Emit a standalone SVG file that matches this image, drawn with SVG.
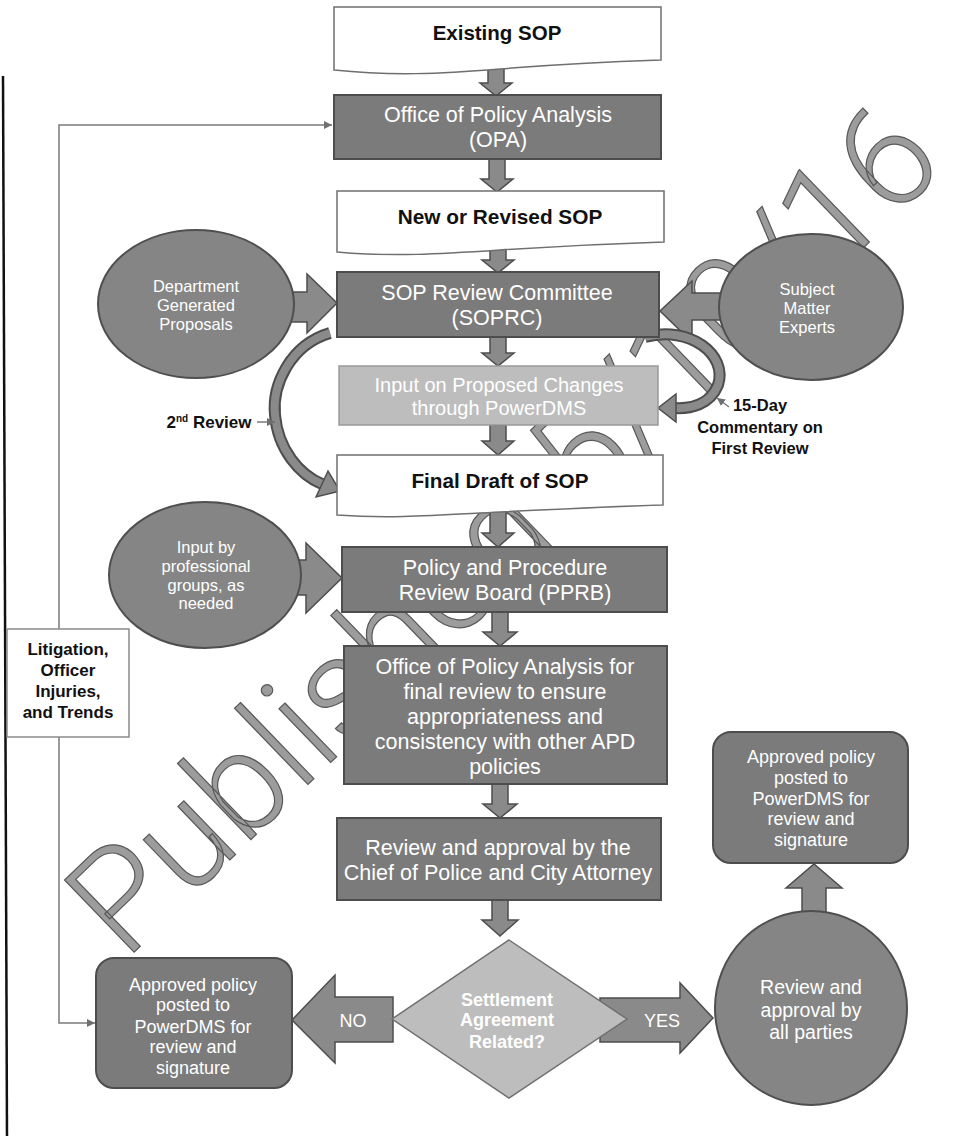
<svg xmlns="http://www.w3.org/2000/svg" width="980" height="1136" viewBox="0 0 980 1136">
<style>
.doc{fill:#fff;stroke:#6f6f6f;stroke-width:1.5}
.dark{fill:#7b7b7b;stroke:#4d4d4d;stroke-width:2}
.light{fill:#bdbdbd;stroke:#9a9a9a;stroke-width:1.5}
.ell{fill:#858585;stroke:#4f4f4f;stroke-width:2}
.arr{fill:#8a8a8a;stroke:#4d4d4d;stroke-width:1.5}
.line{fill:none;stroke:#7a7a7a;stroke-width:1.5}
.bandO{fill:none;stroke:#4d4d4d;stroke-width:12}
.bandI{fill:none;stroke:#8a8a8a;stroke-width:8}
text{font-family:"Liberation Sans",Arial,sans-serif;text-anchor:middle}
.tb{font-weight:bold;fill:#111}
.tw{fill:#fff}
.d{font-size:21.5px}
.wm{font-family:Roboto,"Liberation Sans",sans-serif;font-weight:300;font-size:141px;fill:#9c9c9c;stroke:#585858;stroke-width:1.2;text-anchor:start}
</style>
<defs>
<marker id="ah" viewBox="0 0 8 8" markerWidth="8" markerHeight="8" refX="8" refY="4" orient="auto" markerUnits="userSpaceOnUse">
<path d="M0,0 L8,4 L0,8 Z" fill="#6f6f6f"/>
</marker>
</defs>
<rect width="980" height="1136" fill="#fff"/>
<line x1="3" y1="76" x2="7" y2="1136" stroke="#111" stroke-width="2.5"/>
<text class="wm" x="125" y="961" transform="rotate(-44 125 961)">Published 5/10/16</text>

<g id="connectors">
<path class="line" d="M59,737 V1023 H95" marker-end="url(#ah)"/>
<path class="line" d="M59,629 V125 H332" marker-end="url(#ah)"/>
<path class="arr" d="M488,68 H504 V83 H512 L496,96 L480,83 H488 Z"/>
<path class="arr" d="M489,159 H505 V179 H513 L497,192 L481,179 H489 Z"/>
<path class="arr" d="M490,246 H506 V260 H514 L498,273 L482,260 H490 Z"/>
<path class="arr" d="M490,337 H506 V353 H514 L498,366 L482,353 H490 Z"/>
<path class="arr" d="M490,425 H506 V441 H514 L498,455 L482,441 H490 Z"/>
<path class="arr" d="M490,510 H506 V533 H514 L498,547 L482,533 H490 Z"/>
<path class="arr" d="M492,612 H508 V632 H517 L500,646 L483,632 H492 Z"/>
<path class="arr" d="M492,784 H508 V804 H517 L500,818 L483,804 H492 Z"/>
<path class="arr" d="M492,900 H508 V920 H518 L500,936 L482,920 H492 Z"/>
<path class="arr" d="M272,292 H307 V274 L337,303 L307,333 V322 H272 Z"/>
<path class="arr" d="M272,560 H306 V543 L342,578 L306,613 V595 H272 Z"/>
<path class="arr" d="M728,293 H692 V281 L660,311 L692,342 V320 H728 Z"/>
<path class="arr" d="M393,997 H335 V975 L292,1020 L335,1063 V1042 H393 Z"/>
<path class="arr" d="M600,998 H680 V983 L713,1018 L680,1053 V1042 H600 Z"/>
<path class="arr" d="M802,915 V888 H786 L814,864 L842,888 H826 V915 Z"/>
<path class="bandO" d="M330,333 C290,345 272,385 275,415 C278,450 300,475 322,484"/>
<path class="bandI" d="M330,333 C290,345 272,385 275,415 C278,450 300,475 322,484"/>
<path class="arr" d="M316,497 L328,471 L340,491 Z"/>
<path class="bandO" d="M645,337 C690,325 728,355 718,385 C710,405 690,409 674,408"/>
<path class="bandI" d="M645,337 C690,325 728,355 718,385 C710,405 690,409 674,408"/>
<path class="arr" d="M676,394 L676,422 L658,408 Z"/>
<line class="line" x1="257" y1="422" x2="275" y2="422" marker-end="url(#ah)"/>
<line class="line" x1="729" y1="407" x2="717" y2="398" marker-end="url(#ah)"/>
</g>

<g id="existing">
<path class="doc" d="M334,7 H661 V60 C600,62 560,64 500,69 S390,76 334,70 Z"/>
<text class="tb" x="497" y="40" font-size="20.5">Existing SOP</text>
</g>
<g id="opa">
<rect class="dark" x="334" y="95" width="327" height="64"/>
<text class="tw d" x="498" y="122">Office of Policy Analysis</text>
<text class="tw d" x="498" y="147">(OPA)</text>
</g>
<g id="newsop">
<path class="doc" d="M337,191 H664 V242 C600,244 560,246 500,250 S392,257 337,252 Z"/>
<text class="tb" x="500" y="224" font-size="20.8">New or Revised SOP</text>
</g>
<g id="soprc">
<rect class="dark" x="337" y="272" width="322" height="65"/>
<text class="tw d" x="497" y="300">SOP Review Committee</text>
<text class="tw d" x="497" y="325">(SOPRC)</text>
</g>
<g id="dept">
<ellipse class="ell" cx="196" cy="304" rx="98" ry="74"/>
<text class="tw" x="196" y="292" font-size="16.5">Department</text>
<text class="tw" x="196" y="311" font-size="16.5">Generated</text>
<text class="tw" x="196" y="330" font-size="16.5">Proposals</text>
</g>
<g id="sme">
<ellipse class="ell" cx="811" cy="307" rx="92" ry="73"/>
<text class="tw" x="807" y="295" font-size="16.5">Subject</text>
<text class="tw" x="807" y="314" font-size="16.5">Matter</text>
<text class="tw" x="807" y="333" font-size="16.5">Experts</text>
</g>
<g id="input">
<rect class="light" x="339" y="366" width="319" height="59"/>
<text class="tw" x="499" y="392" font-size="20">Input on Proposed Changes</text>
<text class="tw" x="499" y="415" font-size="20">through PowerDMS</text>
</g>
<g id="label-2nd">
<text class="tb" x="209" y="428" font-size="17">2<tspan font-size="10" dy="-6">nd</tspan><tspan dy="6"> Review</tspan></text>
</g>
<g id="label-15day">
<text class="tb" x="760" y="411" font-size="16.5">15-Day</text>
<text class="tb" x="760" y="433" font-size="16.5">Commentary on</text>
<text class="tb" x="760" y="454" font-size="16.5">First Review</text>
</g>
<g id="final">
<path class="doc" d="M337,455 H663 V505 C600,507 560,509 500,512 S392,519 337,515 Z"/>
<text class="tb" x="500" y="488" font-size="20.7">Final Draft of SOP</text>
</g>
<g id="prof">
<ellipse class="ell" cx="205" cy="575" rx="96" ry="73"/>
<text class="tw" x="206" y="553" font-size="16.5">Input by</text>
<text class="tw" x="206" y="572" font-size="16.5">professional</text>
<text class="tw" x="206" y="591" font-size="16.5">groups, as</text>
<text class="tw" x="206" y="609" font-size="16.5">needed</text>
</g>
<g id="pprb">
<rect class="dark" x="342" y="547" width="325" height="65"/>
<text class="tw d" x="505" y="575">Policy and Procedure</text>
<text class="tw d" x="505" y="600">Review Board (PPRB)</text>
</g>
<g id="litigation">
<rect x="7" y="629" width="122" height="108" fill="#fff" stroke="#8a8a8a" stroke-width="1.5"/>
<text class="tb" x="68" y="655" font-size="17">Litigation,</text>
<text class="tb" x="68" y="676" font-size="17">Officer</text>
<text class="tb" x="68" y="697" font-size="17">Injuries,</text>
<text class="tb" x="68" y="718" font-size="17">and Trends</text>
</g>
<g id="opafinal">
<rect class="dark" x="344" y="646" width="323" height="138"/>
<text class="tw d" x="505" y="674">Office of Policy Analysis for</text>
<text class="tw d" x="505" y="699">final review to ensure</text>
<text class="tw d" x="505" y="724">appropriateness and</text>
<text class="tw d" x="505" y="749">consistency with other APD</text>
<text class="tw d" x="505" y="774">policies</text>
</g>
<g id="approved-right">
<rect class="dark" x="713" y="732" width="195" height="131" rx="18"/>
<text class="tw" x="811" y="763" font-size="18">Approved policy</text>
<text class="tw" x="811" y="784" font-size="18">posted to</text>
<text class="tw" x="811" y="805" font-size="18">PowerDMS for</text>
<text class="tw" x="811" y="825" font-size="18">review and</text>
<text class="tw" x="811" y="846" font-size="18">signature</text>
</g>
<g id="chief">
<rect class="dark" x="337" y="818" width="324" height="82"/>
<text class="tw d" x="498" y="855">Review and approval by the</text>
<text class="tw d" x="498" y="880">Chief of Police and City Attorney</text>
</g>
<g id="settlement">
<path class="light" d="M509,940 L627,1019 L509,1098 L392,1019 Z" style="stroke:#6f6f6f"/>
<text class="tw" x="507" y="1006" font-size="18" font-weight="bold">Settlement</text>
<text class="tw" x="507" y="1026" font-size="18" font-weight="bold">Agreement</text>
<text class="tw" x="507" y="1048" font-size="18" font-weight="bold">Related?</text>
</g>
<g id="no-label"><text class="tw" x="353" y="1027" font-size="18">NO</text></g>
<g id="yes-label"><text class="tw" x="662" y="1027" font-size="18">YES</text></g>
<g id="approved-left">
<rect class="dark" x="96" y="958" width="196" height="130" rx="18"/>
<text class="tw" x="193" y="991" font-size="18">Approved policy</text>
<text class="tw" x="193" y="1011" font-size="18">posted to</text>
<text class="tw" x="193" y="1033" font-size="18">PowerDMS for</text>
<text class="tw" x="193" y="1053" font-size="18">review and</text>
<text class="tw" x="193" y="1074" font-size="18">signature</text>
</g>
<g id="allparties">
<ellipse class="ell" cx="811" cy="1008" rx="96" ry="97"/>
<text class="tw" x="811" y="994" font-size="19.5">Review and</text>
<text class="tw" x="811" y="1017" font-size="19.5">approval by</text>
<text class="tw" x="811" y="1039" font-size="19.5">all parties</text>
</g>
</svg>
